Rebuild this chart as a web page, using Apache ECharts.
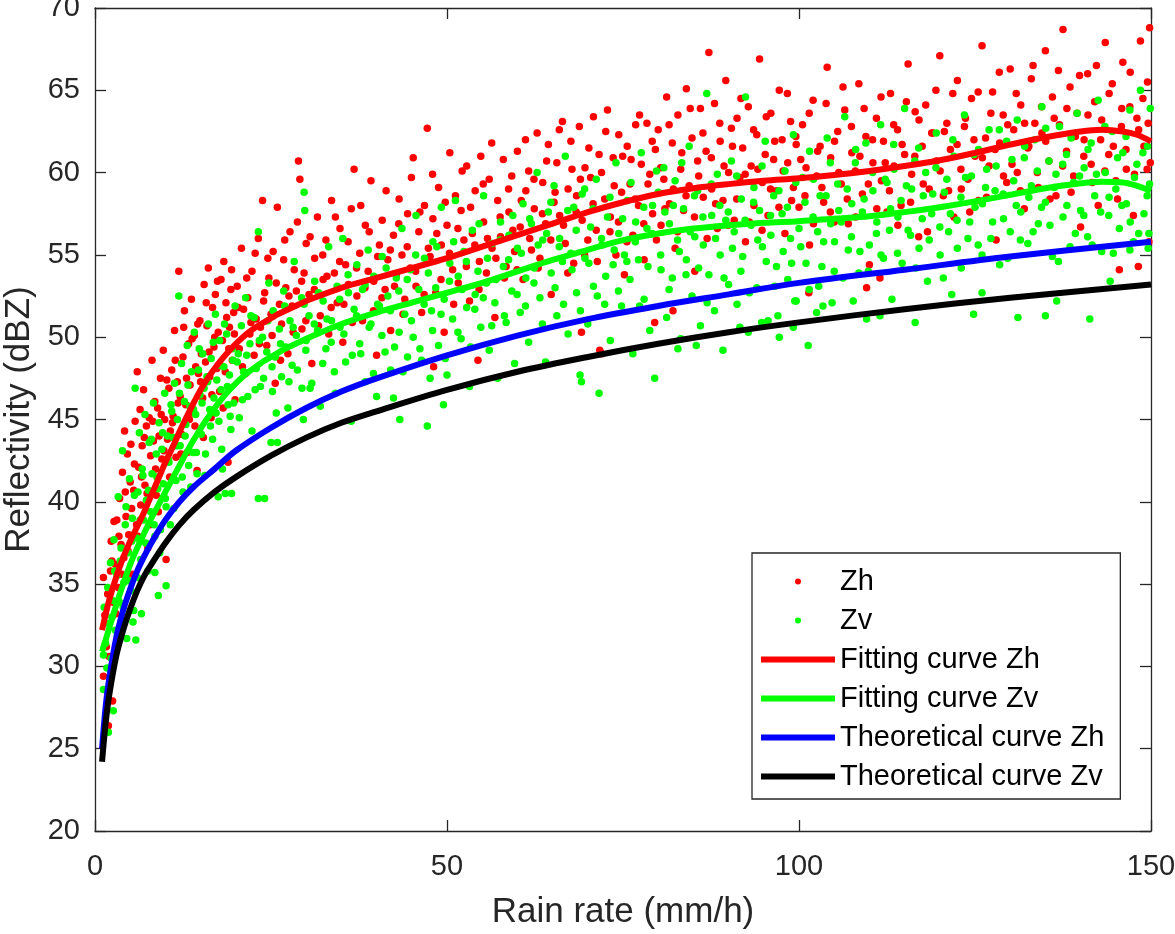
<!DOCTYPE html>
<html>
<head>
<meta charset="utf-8">
<script src="https://cdn.jsdelivr.net/npm/echarts@6/dist/echarts.min.js"></script>
<style>
html,body{margin:0;padding:0;background:#fff;}
#chart{width:1175px;height:934px;}
</style>
</head>
<body>
<div id="chart"></div>
<script>
// ---- axis / labels ----
const xTitle = 'Rain rate (mm/h)';
const yTitle = 'Reflectivity (dBZ)';
const xRange = [0, 150, 50];
const yRange = [20, 70, 5];
const seriesNames = ['Zh', 'Zv', 'Fitting curve Zh', 'Fitting curve Zv', 'Theoretical curve Zh', 'Theoretical curve Zv'];

// ---- scatter: Zh measurements [rain rate, dBZ] ----
const zhPoints = [
[1.2,29.4],[1.2,35.4],[1.9,26.4],[2.5,27.9],[1.4,33.1],[1.6,31.2],[1.8,34.4],[2.0,30.6],[2.2,35.8],[2.3,37.6],[2.6,33.9],[2.7,38.8],[2.9,36.2],[3.1,38.9],[3.3,34.8],[3.5,40.2],[3.7,37.4],[3.9,41.8],[4.1,36.6],[4.2,44.3],[4.4,39.1],[4.6,42.9],[4.8,38.0],[5.0,41.2],[5.1,43.5],[5.3,35.6],[5.5,40.7],[5.7,44.9],[5.9,38.6],
[6.0,47.9],[6.2,42.1],[6.4,45.6],[6.5,39.8],[6.7,43.4],[6.9,46.8],[7.1,41.0],[7.3,44.6],[7.5,37.2],[7.7,45.1],[7.9,42.8],[8.1,48.6],[8.3,43.7],[8.5,46.1],[8.7,40.4],[8.9,45.7],[9.1,44.0],[9.3,47.5],[9.5,42.6],[9.7,49.2],[9.9,45.0],[10.1,36.5],[10.3,43.8],[10.5,46.9],[10.7,44.3],[10.9,48.0],
[11.1,45.2],[11.3,50.4],[11.5,42.7],[11.7,47.3],[11.9,54.0],[12.1,46.4],[12.3,44.1],[12.5,48.8],[12.7,51.6],[12.9,45.9],[13.1,43.0],[13.3,49.6],[13.5,47.1],[13.7,52.3],[13.9,45.4],[14.1,50.1],[14.3,48.2],[14.5,41.9],[14.7,47.8],[14.9,51.0],[15.1,49.0],[15.3,46.3],[15.5,53.2],[15.7,48.5],[15.9,50.7],[16.1,54.2],[16.3,47.6],[16.5,45.1],[16.7,51.8],[16.9,49.4],[17.1,52.6],[17.3,48.1],[17.5,50.3],[17.7,46.7],[17.9,53.5],[18.1,49.8],[18.3,54.6],[18.5,47.9],[18.7,51.2],[18.9,42.4],[19.1,50.6],[19.3,52.9],[19.5,48.6],[19.7,51.5],[19.9,46.2],
[20.2,53.1],[20.5,49.3],[20.8,55.4],[21.1,51.7],[21.4,47.8],[21.7,52.4],[22.0,50.2],[22.3,54.0],[22.6,48.9],[22.9,51.1],[23.2,56.0],[23.5,50.6],[23.8,58.3],[24.1,52.7],[24.4,49.5],[24.7,53.6],[25.0,51.4],[25.3,55.2],[25.6,47.2],[25.9,57.9],[26.2,52.0],[26.5,50.8],[26.8,54.7],[27.1,53.0],[27.4,49.0],[27.7,56.4],[28.0,51.9],[28.3,54.1],[28.6,52.8],[28.9,60.7],[29.1,59.6],[29.4,50.5],[29.7,53.9],[30.0,55.7],
[30.4,52.6],[30.8,48.4],[31.2,54.8],[31.6,57.3],[32.0,51.3],[32.4,53.5],[32.8,55.9],[33.2,50.2],[33.6,58.3],[34.0,53.9],[34.4,52.1],[34.8,56.6],[35.2,49.7],[35.6,54.4],[36.0,53.2],[36.4,57.8],[36.8,60.2],[37.2,52.5],[37.6,55.1],[38.0,51.0],[38.4,56.8],[38.8,54.0],[39.2,59.5],[39.6,53.4],[40.0,48.9],[40.4,55.6],[40.8,57.1],[41.2,52.9],[41.6,54.7],[42.0,50.4],[42.4,56.2],[42.8,53.8],[43.2,58.4],[43.6,55.0],[44.0,52.3],[44.4,57.5],[44.8,54.2],
[45.2,60.9],[45.6,53.1],[46.0,56.4],[46.4,51.5],[46.8,58.0],[47.2,62.7],[47.6,54.9],[48.0,57.2],[48.1,48.2],[48.4,52.7],[48.8,59.1],[49.2,55.6],[49.6,50.3],[50.0,56.8],[50.4,61.2],[50.8,54.1],[51.2,58.6],[51.6,53.3],[52.0,57.7],[52.4,55.9],[52.8,60.4],[53.2,52.2],[53.6,56.3],[54.0,58.9],[54.4,48.6],[54.6,54.6],[54.8,61.0],[55.2,57.0],[55.6,53.9],[56.0,59.6],[56.4,55.4],[56.8,51.2],[57.2,58.3],[57.6,56.1],[58.0,60.8],[58.4,54.3],[58.8,57.6],[59.2,59.8],[59.6,55.2],
[60.0,61.3],[60.4,56.7],[60.8,53.5],[61.2,58.9],[61.6,60.1],[62.0,55.3],[62.4,57.8],[62.8,62.4],[63.2,54.8],[63.6,59.4],[64.0,56.9],[64.4,61.7],[64.8,52.6],[65.2,58.2],[65.6,60.6],[66.0,57.4],[66.4,63.1],[66.8,55.7],[67.2,59.0],[67.6,61.9],[68.0,54.5],[68.4,58.6],[68.8,62.8],[69.1,50.3],[69.2,57.1],[69.6,60.3],[70.0,55.9],[70.4,59.7],[70.8,63.4],[71.2,56.5],[71.6,61.1],[71.7,49.2],[72.0,49.0],[72.4,58.4],[72.8,63.8],[73.2,57.3],[73.6,60.9],[74.0,55.0],[74.4,62.3],[74.8,58.8],[75.2,53.8],[75.6,61.6],[76.0,59.3],[76.4,56.2],[76.8,62.9],[77.2,58.0],[77.6,60.5],[78.0,54.7],[78.4,63.0],[78.8,59.9],[79.2,57.5],[79.5,50.9],[79.6,61.4],
[80.0,62.6],[80.4,56.8],[80.8,59.6],[81.2,64.6],[81.6,58.1],[82.0,61.8],[82.1,51.6],[82.4,55.4],[82.8,63.5],[83.2,60.2],[83.6,57.7],[84.0,65.1],[84.4,59.2],[84.8,62.1],[85.2,54.0],[85.6,60.7],[86.0,63.9],[86.4,58.5],[86.8,61.3],[87.2,67.3],[87.6,59.0],[88.0,64.2],[88.4,56.6],[88.8,61.9],[89.2,58.3],[89.6,65.6],[90.0,60.0],[90.4,62.7],[90.8,57.1],[91.2,63.3],[91.6,59.7],[92.0,61.5],[92.4,55.8],[92.8,64.0],[93.2,60.4],[93.6,58.0],[94.0,62.3],[94.4,66.9],[94.8,59.4],[95.2,61.1],[95.6,57.4],[96.0,63.6],[96.4,60.8],[96.8,58.9],[97.2,65.0],[97.6,62.0],[98.0,56.3],[98.4,60.6],[98.8,63.1],[99.2,59.1],[99.6,61.7],
[100.0,57.9],[100.5,62.9],[101.0,60.3],[101.4,52.7],[101.5,55.6],[102.0,64.4],[102.5,59.8],[103.0,61.6],[103.5,58.2],[104.0,66.4],[104.5,60.9],[105.0,57.0],[105.5,62.5],[106.0,59.3],[106.5,63.8],[107.0,56.9],[107.5,61.2],[108.0,60.1],[108.5,65.4],[109.0,58.7],[109.5,62.2],[109.6,53.0],[110.0,54.4],[110.5,60.6],[111.0,63.3],[111.5,53.6],[111.7,59.5],[112.0,61.9],[112.5,57.6],[113.0,64.8],[113.5,60.4],[114.0,62.6],[114.5,58.0],[115.0,61.1],[115.5,66.6],[116.0,59.9],[116.5,63.7],[117.0,56.1],[117.5,61.6],[118.0,64.1],[118.5,59.0],[119.0,62.4],[119.5,60.7],[120.0,67.1],[120.5,58.6],[121.0,63.0],[121.5,61.4],[122.0,57.3],[122.5,65.6],[123.0,60.2],[123.5,62.8],[124.0,59.6],[124.5,64.5],[125.0,61.0],
[125.5,58.3],[126.0,67.7],[126.5,62.1],[127.0,60.4],[127.5,64.9],[128.0,55.9],[128.5,61.8],[129.0,63.5],[129.5,59.4],[130.0,66.3],[130.5,62.6],[131.0,60.0],[131.5,64.1],[132.0,57.8],[132.5,61.5],[133.0,65.7],[133.5,63.0],[134.0,59.1],[134.5,62.4],[135.0,67.4],[135.5,60.7],[136.0,64.6],[136.5,58.6],[137.0,62.9],[137.5,68.7],[138.0,61.3],[138.5,65.2],[139.0,59.8],[139.5,63.6],[140.0,56.7],[140.5,62.0],[141.0,66.0],[141.5,60.5],[142.0,64.3],[142.5,58.0],[143.0,63.2],[143.5,67.9],[144.0,61.1],[144.5,65.4],[145.0,59.5],[145.5,54.1],[145.8,62.8],[146.0,66.7],[146.5,60.2],[147.0,64.0],[147.5,57.4],[148.0,63.3],[148.2,54.3],[148.5,68.0],[149.0,61.6],[149.5,65.5],[149.8,68.8],[149.9,60.6],[149.7,55.8]
];
const zhPointsCore = [
[2.4,36.4],[3.0,33.2],[3.4,37.9],[3.8,35.6],[4.3,40.6],[4.7,37.0],[5.2,39.6],[5.6,42.3],[6.1,37.9],[6.6,41.5],[7.0,43.9],[7.4,40.5],[7.8,38.6],[8.2,44.9],[8.6,42.0],[9.0,39.4],[9.4,45.3],[9.8,43.1],[10.2,47.4],[10.6,41.5],[11.0,44.8],[11.4,48.6],[11.8,46.0],[12.2,42.9],[12.6,50.6],[13.0,47.5],[13.4,45.0],[13.8,49.9],[14.2,44.6],[14.6,50.8],[15.0,47.3],[15.4,43.9],[15.8,52.1],[16.2,49.1],[16.6,46.5],[17.0,50.0],[17.4,53.4],[17.8,48.3],[18.2,45.7],[18.6,52.1],[19.0,49.3],[19.4,54.1],[19.8,50.2],
[20.35,51.8],[20.95,48.2],[21.55,53.6],[22.15,50.9],[22.75,55.1],[23.35,49.6],[23.95,52.2],[24.55,54.8],[25.15,50.1],[25.75,53.3],[26.35,48.6],[26.95,55.9],[27.55,52.5],[28.15,50.3],[28.75,57.0],[29.35,53.4],[29.95,51.0],[30.55,56.1],[31.15,52.9],[31.75,50.7],[32.35,55.0],[32.95,53.7],[33.55,51.8],[34.15,57.3],[34.75,54.6],[35.35,52.0],[35.95,55.8],[36.55,50.9],[37.15,54.2],[37.75,58.0],[38.35,53.0],[38.95,56.4],[39.55,51.6],[40.15,54.9],[40.75,52.4],[41.35,58.9],[41.95,55.3],[42.55,53.1],[43.15,56.9],[43.75,51.4],[44.35,55.5],[44.95,59.7],
[45.55,54.0],[46.15,57.6],[46.75,52.6],[47.35,55.4],[47.95,59.9],[48.55,56.3],[49.15,53.5],[49.75,58.2],[50.35,55.1],[50.95,52.0],[51.55,56.6],[52.15,60.1],[52.75,54.3],[53.35,57.9],[53.95,55.6],[54.55,52.9],[55.15,59.3],[55.75,56.0],[56.35,61.8],[56.95,54.8],[57.55,57.3],[58.15,53.6],[58.75,59.0],[59.35,56.5],[59.95,54.1],[60.55,58.3],[61.15,62.0],[61.75,56.0],[62.35,59.6],[62.95,54.2],[63.55,57.5],[64.15,60.7],[64.75,55.9],[65.35,58.8],[65.95,62.6],[66.55,56.8],[67.15,53.9],[67.75,60.2],[68.35,57.6],[68.95,59.6],[69.55,55.0],
[70.15,61.5],[70.75,58.1],[71.35,54.6],[71.95,60.0],[72.55,62.5],[73.15,56.4],[73.75,59.2],[74.35,57.0],[74.95,61.0],[75.55,55.8],[76.15,60.8],[76.75,58.4],[77.35,63.5],[77.95,56.9],[78.55,59.3],[79.15,61.9],[79.75,55.9],[80.35,60.3],[80.95,57.8],[81.55,62.9],[82.15,59.0],[82.75,56.4],[83.35,61.2],[83.95,58.6],[84.55,63.9],[85.15,57.3],[85.75,59.8],[86.35,62.4],[86.95,56.0],[87.55,60.9],[88.15,58.1],[88.75,63.0],[89.35,60.4],[89.95,56.8],[90.55,61.6],[91.15,58.4],[91.75,64.5],[92.35,59.9],[92.95,57.0],[93.55,62.6],[94.15,60.2],[94.75,56.5],[95.35,63.4],[95.95,59.0],[96.55,61.9],[97.15,57.9],[97.75,60.1],[98.35,64.8],[98.95,58.3],[99.55,62.2],
[100.25,60.8],[100.85,58.6],[101.45,63.6],[102.05,56.9],[102.65,61.3],[103.25,59.1],[103.85,64.2],[104.45,57.6],[105.05,61.9],[105.65,60.0],[106.25,65.2],[106.85,58.4],[107.45,62.8],[108.05,57.3],[108.65,61.0],[109.25,63.9],[109.85,59.3],[110.45,62.0],[111.05,57.8],[111.65,64.6],[112.25,60.6],[112.85,58.9],[113.45,62.9],[114.05,56.8],[114.65,61.7],[115.25,64.3],[115.85,58.2],[116.45,61.0],[117.05,63.2],[117.65,59.3],[118.25,56.4],[118.85,62.4],[119.45,65.0],[120.05,60.1],[120.65,62.5],[121.25,58.9],[121.85,64.8],[122.45,61.7],[123.05,59.0],[123.65,63.3],[124.25,57.6],[124.85,62.0],
[125.45,64.9],[126.05,60.9],[126.65,58.5],[127.25,63.6],[127.85,61.4],[128.45,66.1],[129.05,59.8],[129.65,62.9],[130.25,60.5],[130.85,64.8],[131.45,58.9],[132.05,63.0],[132.65,61.6],[133.25,66.5],[133.85,60.0],[134.45,64.0],[135.05,61.9],[135.65,58.4],[136.25,63.3],[136.85,66.2],[137.45,60.4],[138.05,63.9],[138.65,58.8],[139.25,62.2],[139.85,65.9],[140.45,61.0],[141.05,63.5],[141.65,59.4],[142.25,66.5],[142.85,62.0],[143.45,60.1],[144.05,64.8],[144.65,61.6],[145.25,58.4],[145.85,63.9],[146.45,61.4],[147.05,66.1],[147.65,59.9],[148.25,62.6],[148.85,64.5],[149.45,60.2],[149.6,63.0]
];

// ---- scatter: Zv measurements [rain rate, dBZ] ----
const zvPoints = [
[1.2,28.6],[1.9,26.0],[2.6,27.3],[1.2,30.7],[1.3,33.6],[1.5,31.4],[1.7,29.9],[1.8,34.8],[2.0,32.6],[2.2,36.3],[2.3,30.5],[2.5,34.0],[2.7,37.7],[2.9,32.2],[3.1,35.5],[3.3,40.3],[3.5,33.9],[3.7,37.2],[3.9,43.1],[4.1,35.1],[4.3,38.6],[4.5,31.7],[4.7,36.9],[4.9,41.4],[5.1,34.6],[5.3,39.0],[5.4,32.7],[5.5,33.4],[5.7,46.9],[5.8,31.6],[5.9,37.8],[6.6,33.2],[8.5,35.7],[9.0,34.3],[10.1,34.9],
[6.1,40.6],[6.3,44.2],[6.5,36.5],[6.7,42.0],[6.9,38.9],[7.1,45.3],[7.3,40.1],[7.5,35.8],[7.7,43.6],[7.9,39.4],[8.1,41.7],[8.3,46.0],[8.5,37.9],[8.7,42.9],[8.9,40.8],[9.1,44.8],[9.3,38.3],[9.5,43.2],[9.7,41.1],[9.9,46.6],[10.1,39.7],[10.3,44.0],[10.5,42.4],[10.7,38.6],[10.9,45.5],
[11.1,43.9],[11.3,47.2],[11.5,41.3],[11.7,45.0],[11.9,52.5],[12.1,43.4],[12.3,48.4],[12.5,40.6],[12.7,46.1],[12.9,44.7],[13.1,49.5],[13.3,42.2],[13.5,45.8],[13.7,47.9],[13.9,43.0],[14.1,50.3],[14.3,45.3],[14.5,41.7],[14.7,48.0],[14.9,46.5],[15.1,44.1],[15.3,49.0],[15.5,46.9],[15.7,42.9],[15.9,47.6],[16.1,50.8],[16.3,45.6],[16.5,48.7],[16.7,43.8],[16.9,46.3],[17.1,51.4],[17.3,47.4],[17.5,40.3],[17.6,44.9],[17.7,49.8],[17.9,46.8],[18.1,42.0],[18.3,48.2],[18.5,40.5],[18.7,50.2],[18.9,45.9],[19.1,47.7],[19.4,40.5],[19.3,44.4],[19.5,49.3],[19.7,46.0],[19.9,51.9],
[20.2,48.5],[20.5,45.1],[20.8,50.7],[21.1,47.9],[21.4,52.4],[21.7,46.4],[22.0,49.6],[22.3,44.3],[22.6,51.2],[22.9,48.1],[23.2,56.4],[23.2,40.2],[23.5,47.0],[23.8,50.0],[24.1,40.2],[24.4,49.1],[24.7,53.3],[25.0,43.6],[25.2,46.7],[25.3,51.6],[25.6,48.8],[25.9,43.6],[26.2,50.5],[26.5,47.6],[26.8,52.8],[27.1,49.4],[27.4,45.7],[27.7,51.0],[28.0,48.3],[28.3,54.6],[28.6,50.1],[29.7,58.8],[29.8,57.7],[29.4,46.9],[29.6,45.0],[29.7,52.0],[30.0,49.8],
[30.4,51.3],[30.8,47.2],[31.2,53.4],[31.6,50.4],[32.0,45.8],[32.4,52.2],[32.8,49.3],[33.2,55.5],[33.6,51.0],[34.0,47.9],[34.4,53.1],[34.8,50.6],[35.2,56.0],[35.6,48.5],[36.0,52.7],[36.4,44.9],[36.8,51.7],[37.2,54.4],[37.6,49.6],[38.0,52.9],[38.4,47.3],[38.8,55.3],[39.2,50.8],[39.6,53.7],[40.0,46.4],[40.4,51.9],[40.8,54.9],[41.2,49.1],[41.6,52.5],[42.0,48.0],[42.4,46.3],[42.8,53.6],[43.2,50.3],[43.3,45.0],[43.6,56.6],[44.0,51.4],[44.4,48.8],[44.8,54.1],
[45.2,50.0],[45.6,57.4],[46.0,52.9],[46.4,48.6],[46.8,54.8],[47.2,44.6],[47.6,47.5],[47.8,51.6],[48.0,55.8],[48.4,53.0],[48.8,49.5],[49.2,57.9],[49.5,45.9],[49.6,52.3],[50.0,47.7],[50.4,54.5],[50.8,51.1],[51.2,58.3],[51.6,53.7],[52.0,49.9],[52.4,55.2],[52.8,51.8],[53.2,47.0],[53.6,56.5],[54.0,52.6],[54.4,54.0],[54.8,50.6],[55.2,58.6],[55.6,53.3],[56.0,49.2],[56.4,55.7],[56.8,52.1],[57.2,47.5],[57.6,57.0],[58.0,54.3],[58.4,50.9],[58.8,56.2],[59.2,52.8],[59.6,48.4],
[60.0,55.4],[60.4,51.5],[60.8,58.1],[61.2,53.6],[61.6,49.7],[62.0,56.9],[62.4,54.2],[62.8,60.0],[63.2,52.4],[63.6,55.9],[64.0,48.5],[64.4,57.6],[64.8,53.9],[65.2,59.2],[65.6,51.3],[66.0,56.0],[66.4,54.6],[66.8,61.0],[67.2,50.2],[67.6,55.1],[68.0,57.9],[68.4,52.7],[68.9,47.7],[69.1,47.3],[69.2,58.7],[69.6,54.8],[70.0,50.8],[70.4,56.7],[70.8,53.1],[71.2,59.6],[71.6,46.6],[72.0,55.6],[72.4,52.0],[72.8,57.3],[73.2,49.8],[73.6,54.4],[74.0,60.6],[74.4,56.3],[74.8,51.9],[75.2,55.0],[75.6,58.3],[76.0,53.5],[76.4,49.0],[76.8,57.0],[77.2,54.7],[77.6,61.2],[78.0,52.3],[78.4,56.6],[78.8,50.4],[79.2,58.0],[79.5,47.5],
[80.0,58.8],[80.4,54.1],[80.8,60.3],[81.2,51.2],[81.6,56.9],[82.0,53.6],[82.4,59.5],[82.8,49.3],[83.0,55.2],[83.2,49.9],[83.6,57.8],[84.0,54.7],[84.4,61.6],[84.8,52.5],[85.2,56.1],[85.4,49.5],[85.6,58.9],[86.0,50.7],[86.4,55.6],[86.9,64.8],[87.2,53.8],[87.6,57.4],[88.0,51.6],[88.4,59.9],[88.8,55.0],[89.2,49.2],[89.6,57.1],[90.0,53.2],[90.4,60.7],[90.8,56.4],[91.2,52.0],[91.6,50.6],[91.8,58.4],[92.0,54.9],[92.4,64.6],[92.8,50.3],[93.2,56.8],[93.6,59.1],[94.0,53.0],[94.4,57.7],[94.7,50.9],[94.8,55.5],[95.2,61.9],[95.6,51.0],[96.0,56.2],[96.4,58.6],[96.8,54.3],[97.0,51.3],[97.2,50.0],[97.6,57.5],[98.0,60.1],[98.4,53.5],[98.8,56.0],[99.2,62.3],[99.2,50.6],[99.4,52.2],[99.6,52.2],
[100.0,56.6],[100.5,59.7],[101.0,54.5],[101.3,49.5],[101.5,61.3],[102.0,57.3],[102.5,51.5],[102.8,53.1],[103.0,58.6],[103.4,51.9],[103.5,55.8],[104.0,62.1],[104.5,56.9],[104.7,52.1],[105.0,54.0],[105.5,59.3],[106.0,57.0],[106.5,63.4],[107.0,55.3],[107.5,58.1],[107.7,52.2],[108.0,60.6],[108.5,53.9],[109.0,57.6],[109.5,61.8],[109.6,51.1],[110.0,55.6],[110.5,58.9],[111.0,56.3],[111.5,51.3],[111.6,62.9],[112.0,54.8],[112.5,59.4],[113.0,57.8],[113.2,52.3],[113.5,60.2],[114.0,55.1],[114.5,58.3],[115.0,63.9],[115.5,56.5],[116.0,59.0],[116.5,50.9],[116.6,54.2],[117.0,61.5],[117.5,57.2],[118.0,60.0],[118.5,55.9],[119.0,58.7],[119.5,62.4],[120.0,56.7],[120.5,53.6],[121.0,59.6],[121.5,57.5],[121.7,52.6],[122.0,61.0],[122.5,55.4],[123.0,58.5],[123.5,63.5],[124.0,56.0],[124.5,59.8],[124.8,51.4],[125.0,57.9],
[125.5,61.4],[126.0,55.0],[126.0,52.7],[126.5,59.1],[127.0,62.6],[127.5,57.0],[128.0,60.4],[128.5,54.4],[129.0,58.7],[129.5,61.9],[130.0,56.4],[130.5,59.5],[131.0,63.2],[131.1,51.2],[131.5,57.6],[132.0,60.9],[132.5,55.7],[133.0,59.2],[133.5,62.0],[134.0,56.9],[134.5,64.0],[135.0,58.2],[135.0,51.3],[135.5,60.7],[136.0,54.9],[136.5,59.9],[136.6,52.2],[137.0,62.8],[137.5,57.3],[138.0,61.1],[138.5,55.5],[139.0,59.4],[139.5,63.6],[140.0,57.7],[140.5,60.3],[141.0,56.1],[141.3,51.1],[141.5,61.8],[142.0,58.6],[142.5,64.4],[143.0,55.2],[143.5,60.0],[144.0,57.4],[144.2,53.4],[144.5,62.5],[145.0,59.0],[145.5,56.6],[146.0,61.2],[146.5,58.1],[147.0,63.8],[147.0,55.3],[147.5,55.8],[148.0,60.5],[148.5,65.0],[149.0,57.5],[149.5,61.6],[149.8,59.3],[149.9,63.9],[149.7,56.3]
];
const zvPointsCore = [
[2.4,33.0],[2.8,35.8],[3.2,31.9],[3.6,36.4],[4.0,33.6],[4.4,39.7],[4.8,35.2],[5.2,37.6],[5.6,40.4],[6.0,35.4],[6.4,38.9],[6.8,41.6],[7.2,37.5],[7.6,40.7],[8.0,43.8],[8.4,38.6],[8.8,41.5],[9.2,36.9],[9.6,44.2],[10.0,40.2],[10.4,42.6],[10.8,45.9],[11.2,39.6],[11.6,43.4],[12.0,46.6],[12.4,41.5],[12.8,44.0],[13.2,47.1],[13.6,40.9],[14.0,45.6],[14.4,43.0],[14.8,49.3],[15.2,46.0],[15.6,41.6],[16.0,47.3],[16.4,44.6],[16.8,49.7],[17.2,45.4],[17.6,48.3],[18.0,43.2],[18.4,50.8],[18.8,47.0],[19.2,45.2],[19.6,48.6],
[20.35,49.0],[20.95,46.2],[21.55,48.9],[22.15,51.3],[22.75,46.8],[23.35,49.8],[23.95,47.5],[24.55,51.0],[25.15,48.2],[25.75,45.4],[26.35,49.6],[26.95,51.9],[27.55,47.3],[28.15,50.6],[28.75,48.0],[29.35,52.4],[29.95,49.2],[30.55,46.9],[31.15,50.8],[31.75,52.7],[32.35,48.4],[32.95,51.1],[33.55,49.7],[34.15,46.6],[34.75,52.3],[35.35,50.2],[35.95,53.8],[36.55,48.9],[37.15,51.3],[37.75,49.0],[38.35,53.2],[38.95,50.6],[39.55,47.8],[40.15,52.0],[40.75,50.1],[41.35,54.2],[41.95,51.6],[42.55,49.4],[43.15,52.8],[43.75,47.9],[44.35,53.5],[44.95,51.0],
[45.55,55.0],[46.15,49.3],[46.75,52.0],[47.35,53.9],[47.95,50.4],[48.55,55.5],[49.15,51.4],[49.75,48.7],[50.35,53.4],[50.95,55.8],[51.55,50.3],[52.15,52.9],[52.75,54.6],[53.35,49.4],[53.95,51.7],[54.55,56.9],[55.15,52.4],[55.75,54.8],[56.35,50.7],[56.95,53.5],[57.55,55.9],[58.15,51.3],[58.75,54.7],[59.35,57.4],[59.95,52.6],[60.55,55.1],[61.15,51.9],[61.75,57.2],[62.35,53.3],[62.95,55.6],[63.55,50.8],[64.15,56.3],[64.75,58.2],[65.35,53.0],[65.95,55.5],[66.55,52.0],[67.15,57.7],[67.75,54.1],[68.35,56.5],[68.95,51.6],[69.55,59.0],
[70.15,54.5],[70.75,57.8],[71.35,52.5],[71.95,56.0],[72.55,53.7],[73.15,58.5],[73.75,55.3],[74.35,52.8],[74.95,57.2],[75.55,54.6],[76.15,59.4],[76.75,55.8],[77.35,51.9],[77.95,57.9],[78.55,54.3],[79.15,56.3],[79.75,60.1],[80.35,55.0],[80.95,57.6],[81.55,52.9],[82.15,58.0],[82.75,55.9],[83.35,60.6],[83.95,53.8],[84.55,56.4],[85.15,58.6],[85.75,54.2],[86.35,57.3],[86.95,52.1],[87.55,59.3],[88.15,56.0],[88.75,58.0],[89.35,53.6],[89.95,57.6],[90.55,55.4],[91.15,59.8],[91.75,54.0],[92.35,57.1],[92.95,52.7],[93.55,58.2],[94.15,55.9],[94.75,60.4],[95.35,54.6],[95.95,57.4],[96.55,53.1],[97.15,58.9],[97.75,55.2],[98.35,57.9],[98.95,54.5],[99.55,59.4],
[100.25,55.5],[100.85,58.2],[101.45,52.9],[102.05,59.6],[102.65,56.4],[103.25,54.3],[103.85,58.6],[104.45,60.6],[105.05,55.8],[105.65,57.7],[106.25,53.6],[106.85,59.0],[107.45,56.1],[108.05,61.4],[108.65,55.2],[109.25,58.4],[109.85,54.0],[110.45,60.0],[111.05,57.0],[111.65,55.0],[112.25,59.6],[112.85,56.5],[113.45,61.7],[114.05,57.3],[114.65,54.5],[115.25,59.2],[115.85,56.2],[116.45,60.7],[117.05,55.4],[117.65,58.6],[118.25,53.4],[118.85,57.5],[119.45,60.3],[120.05,55.0],[120.65,58.8],[121.25,56.4],[121.85,62.0],[122.45,57.1],[123.05,54.2],[123.65,59.7],[124.25,57.0],[124.85,61.1],
[125.45,55.6],[126.05,58.1],[126.65,60.2],[127.25,56.0],[127.85,58.9],[128.45,62.6],[129.05,57.2],[129.65,54.8],[130.25,60.8],[130.85,58.0],[131.45,55.9],[132.05,61.6],[132.65,58.5],[133.25,56.4],[133.85,60.1],[134.45,57.9],[135.05,62.7],[135.65,56.8],[136.25,59.1],[136.85,54.6],[137.45,60.5],[138.05,58.0],[138.65,62.1],[139.25,56.3],[139.85,59.8],[140.45,57.4],[141.05,61.4],[141.65,55.6],[142.25,59.9],[142.85,57.6],[143.45,62.8],[144.05,58.5],[144.65,55.1],[145.25,60.9],[145.85,58.0],[146.45,62.2],[147.05,57.0],[147.65,59.7],[148.25,56.3],[148.85,61.2],[149.45,58.6],[149.6,55.4]
];

// ---- curves [rain rate, dBZ] ----
const fitZh = [
[1,32.2],[2,34.0],[3,35.4],[4,36.6],[5,37.6],[6,38.5],[7,39.4],[8,40.4],[9,41.4],[10,42.4],[11,43.3],[12,44.25],[13,45.15],[14,46.0],[15,46.8],[16,47.5],[17,48.1],[18,48.65],[19,49.15],[20,49.6],[21,50.0],[22,50.35],[23,50.65],[24,50.9],[25,51.15],[26,51.4],[27,51.6],[28,51.8],[29,52.0],[30,52.2],[35,53.0],[40,53.6],[45,54.2],[50,54.8],[55,55.5],[60,56.2],[65,56.9],[70,57.6],[75,58.2],[80,58.7],[85,59.05],[90,59.3],[95,59.5],[100,59.65],[105,59.85],[110,60.1],[115,60.4],[120,60.75],[125,61.2],[130,61.7],[135,62.15],[140,62.5],[143,62.6],[146,62.5],[148,62.3],[150,61.9]
];
const fitZv = [
[1,30.9],[2,32.3],[3,33.7],[4,35.0],[5,36.2],[6,37.2],[7,38.1],[8,39.0],[9,39.8],[10,40.6],[11,41.4],[12,42.2],[13,43.0],[14,43.75],[15,44.45],[16,45.1],[17,45.7],[18,46.25],[19,46.75],[20,47.2],[21,47.6],[22,47.95],[23,48.25],[24,48.55],[25,48.8],[26,49.05],[27,49.3],[28,49.5],[29,49.7],[30,49.9],[35,50.8],[40,51.5],[45,52.1],[50,52.7],[55,53.3],[60,54.0],[65,54.7],[70,55.3],[75,55.9],[80,56.3],[85,56.6],[90,56.8],[95,56.95],[100,57.05],[105,57.2],[110,57.35],[115,57.6],[120,57.9],[125,58.25],[130,58.65],[135,59.05],[140,59.35],[143,59.45],[146,59.4],[148,59.2],[150,58.9]
];
const theoZh = [
[1.0,25.0],[1.5,27.5],[2.0,29.2],[3.0,31.7],[4.0,33.4],[5.0,34.7],[6.0,35.8],[7.0,36.7],[8.0,37.5],[10.0,38.9],[12.0,40.0],[14.0,40.9],[17.0,42.0],[20.0,43.1],[25.0,44.5],[30.0,45.7],[35.0,46.7],[40.0,47.5],[50.0,48.9],[60.0,50.1],[70.0,51.1],[80.0,51.9],[90.0,52.6],[100.0,53.3],[115.0,54.1],[130.0,54.9],[150.0,55.8]
];
const theoZv = [
[1.0,24.2],[1.5,26.5],[2.0,28.2],[3.0,30.6],[4.0,32.2],[5.0,33.5],[6.0,34.6],[7.0,35.5],[8.0,36.2],[10.0,37.5],[12.0,38.6],[14.0,39.5],[17.0,40.6],[20.0,41.5],[25.0,42.8],[30.0,43.9],[35.0,44.8],[40.0,45.5],[50.0,46.8],[60.0,47.9],[70.0,48.8],[80.0,49.6],[90.0,50.3],[100.0,50.9],[115.0,51.7],[130.0,52.4],[150.0,53.2]
];

// ---- chart ----
const FONT = '"Liberation Sans", Arial, Helvetica, sans-serif';
const AXC = '#262626';
const chart = echarts.init(document.getElementById('chart'), null, {renderer: 'canvas'});

function mirrorAxis(pos, r) {
  return {
    type: 'value', position: pos, min: r[0], max: r[1], interval: r[2],
    axisLine: {show: true, onZero: false, lineStyle: {color: AXC, width: 1.3}},
    axisTick: {show: true, inside: true, length: 11, lineStyle: {color: AXC, width: 1.3}},
    axisLabel: {show: false}, splitLine: {show: false}
  };
}
function curve(name, data, color) {
  return {name: name, type: 'line', data: data, symbol: 'none', showSymbol: false, smooth: 0.35,
    lineStyle: {color: color, width: 6}, itemStyle: {color: color}, silent: true, z: 3};
}
function dots(name, data, color) {
  return {name: name, type: 'scatter', data: data, symbol: 'circle', symbolSize: 7.5,
    itemStyle: {color: color, opacity: 1}, silent: true, emphasis: {disabled: true}, z: 2};
}

const option = {
  animation: false,
  backgroundColor: '#ffffff',
  grid: {left: 95, right: 24, top: 8, bottom: 103, containLabel: false, outerBoundsMode: 'none'},
  xAxis: [{
    type: 'value', position: 'bottom', min: xRange[0], max: xRange[1], interval: xRange[2],
    name: xTitle, nameLocation: 'middle', nameGap: 64,
    nameTextStyle: {fontSize: 35, color: AXC, fontFamily: FONT},
    axisLine: {show: true, onZero: false, lineStyle: {color: AXC, width: 1.3}},
    axisTick: {show: true, inside: true, length: 11, lineStyle: {color: AXC, width: 1.3}},
    axisLabel: {fontSize: 29, color: AXC, fontFamily: FONT, margin: 21},
    splitLine: {show: false}
  }, mirrorAxis('top', xRange)],
  yAxis: [{
    type: 'value', position: 'left', min: yRange[0], max: yRange[1], interval: yRange[2],
    name: yTitle, nameLocation: 'middle', nameGap: 52, nameRotate: 90,
    nameTextStyle: {fontSize: 35, color: AXC, fontFamily: FONT},
    axisLine: {show: true, onZero: false, lineStyle: {color: AXC, width: 1.3}},
    axisTick: {show: true, inside: true, length: 11, lineStyle: {color: AXC, width: 1.3}},
    axisLabel: {fontSize: 29, color: AXC, fontFamily: FONT, margin: 15},
    splitLine: {show: false}
  }, mirrorAxis('right', yRange)],
  legend: {
    orient: 'vertical', left: 752, top: 553,
    padding: [14, 16, 8, 9], itemGap: 10, itemWidth: 74, itemHeight: 6,
    borderColor: AXC, borderWidth: 1.3, backgroundColor: '#ffffff',
    selectedMode: false,
    textStyle: {fontSize: 29, color: '#000', fontFamily: FONT},
    data: [
      {name: seriesNames[0], icon: 'circle'},
      {name: seriesNames[1], icon: 'circle'},
      {name: seriesNames[2], icon: 'rect'},
      {name: seriesNames[3], icon: 'rect'},
      {name: seriesNames[4], icon: 'rect'},
      {name: seriesNames[5], icon: 'rect'}
    ]
  },
  series: [
    dots(seriesNames[0], zhPoints.concat(zhPointsCore), '#ff0000'),
    dots(seriesNames[1], zvPoints.concat(zvPointsCore), '#00ff00'),
    curve(seriesNames[2], fitZh, '#ff0000'),
    curve(seriesNames[3], fitZv, '#00ff00'),
    curve(seriesNames[4], theoZh, '#0000ff'),
    curve(seriesNames[5], theoZv, '#000000')
  ]
};
chart.setOption(option);
</script>
</body>
</html>
